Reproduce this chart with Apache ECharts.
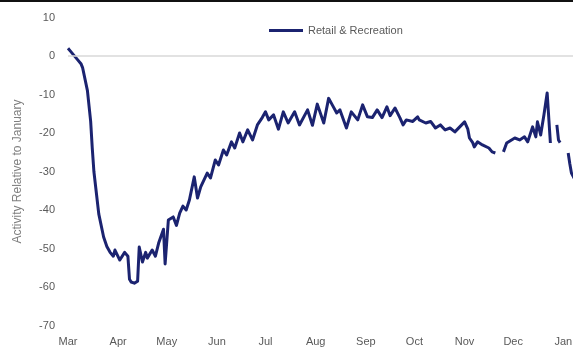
<!DOCTYPE html>
<html>
<head>
    <meta charset="utf-8">
    <title>Retail & Recreation</title>
    <script src="https://cdn.jsdelivr.net/npm/echarts@6/dist/echarts.min.js"></script>
    <style>
        body { margin: 0; background: #fff; }
    </style>
</head>
<body>
    <div id="main" style="width: 573px;height:349px;"></div>
    <script type="text/javascript">
        // dates of the points (null value = gap in the line)
        var dates = [
            '2020-03-01','2020-03-03','2020-03-07','2020-03-09','2020-03-10','2020-03-13','2020-03-15','2020-03-16','2020-03-17','2020-03-20',
            '2020-03-23','2020-03-25','2020-03-27','2020-03-29','2020-03-30','2020-04-02','2020-04-05','2020-04-07','2020-04-08','2020-04-09',
            '2020-04-11','2020-04-13','2020-04-14','2020-04-16','2020-04-18','2020-04-19','2020-04-22','2020-04-24','2020-04-26','2020-04-29',
            '2020-04-30','2020-05-02','2020-05-05','2020-05-07','2020-05-09','2020-05-11','2020-05-13','2020-05-15','2020-05-18','2020-05-20',
            '2020-05-22','2020-05-26','2020-05-28','2020-05-31','2020-06-02','2020-06-05','2020-06-07','2020-06-10','2020-06-12','2020-06-15',
            '2020-06-17','2020-06-20','2020-06-23','2020-06-26','2020-06-29','2020-07-01','2020-07-03','2020-07-06','2020-07-09','2020-07-12',
            '2020-07-15','2020-07-19','2020-07-22','2020-07-27','2020-07-30','2020-08-02','2020-08-06','2020-08-09','2020-08-11','2020-08-14',
            '2020-08-16','2020-08-20','2020-08-23','2020-08-27','2020-08-30','2020-09-02','2020-09-05','2020-09-08','2020-09-11','2020-09-14',
            '2020-09-16','2020-09-19','2020-09-22','2020-09-24','2020-09-26','2020-09-30','2020-10-03','2020-10-04','2020-10-08','2020-10-11',
            '2020-10-14','2020-10-17','2020-10-20','2020-10-23','2020-10-26','2020-10-29','2020-11-01','2020-11-03','2020-11-04','2020-11-06',
            '2020-11-07','2020-11-09','2020-11-12','2020-11-16','2020-11-18','2020-11-20','2020-11-23','2020-11-25','2020-11-27','2020-11-30',
            '2020-12-02','2020-12-05','2020-12-08','2020-12-10','2020-12-13','2020-12-15','2020-12-16','2020-12-18','2020-12-20','2020-12-22',
            '2020-12-24','2020-12-26','2020-12-28','2020-12-29','2020-12-30','2021-01-02','2021-01-04','2021-01-05','2021-01-06','2021-01-08'
        ];
        var values = [
            2, 1, -1, -2, -3, -9, -17, -24, -30, -41,
            -47, -49.5, -51, -52, -50.4, -53, -51, -52, -58, -58.7,
            -59, -58.5, -49.6, -53.5, -51, -52.5, -50.4, -52, -48.6, -45,
            -54, -42.6, -41.8, -44, -40.8, -39, -40, -37.4, -31.4, -36.9,
            -34, -30.4, -31.7, -27, -28.3, -24.4, -25.7, -22.3, -23.9, -20,
            -22.3, -19.2, -21.8, -17.9, -16, -14.5, -16.6, -15.3, -19, -14.5,
            -17.4, -14.5, -17.9, -14, -18, -12.5, -17.4, -11, -12.5, -14.8,
            -14, -18.7, -14.5, -16.6, -12.7, -15.8, -16, -14, -16, -13.2,
            -15.5, -13.5, -16, -17.9, -16.6, -17, -15.8, -16.6, -17.4, -17,
            -18.7, -17.9, -19.2, -18.7, -19.7, -18.4, -17.1, -19, -21.3, -22.5,
            -23.6, -22.3, -23.1, -23.9, -24.9, -25.2, null, -24.9, -22.6, -21.8,
            -21.3, -21.8, -21, -22.3, -18.4, -21, -17.1, -20.5, -15.3, -9.6,
            -22.6, null, -17.9, -21.8, -22.5, null, -25.2, -28, -30.4, -32
        ];
        // month ticks on the x axis
        var monthTicks = ['2020-03-01','2020-04-01','2020-05-01','2020-06-01','2020-07-01','2020-08-01',
            '2020-09-01','2020-10-01','2020-11-01','2020-12-01','2021-01-01'];
        var monthNames = ['Jan','Feb','Mar','Apr','May','Jun','Jul','Aug','Sep','Oct','Nov','Dec'];

        function ts(d) { return new Date(d + 'T00:00:00Z').getTime(); }

        var myChart = echarts.init(document.getElementById('main'));

        var seriesData = dates.map(function (d, i) {
            return [ts(d), values[i] === null ? '-' : values[i]];
        });
        var tickValues = monthTicks.map(ts);

        var option = {
            animation: false,
            textStyle: { fontFamily: 'Liberation Sans' },
            graphic: [{
                type: 'rect',
                left: 0, top: 0,
                shape: { width: 573, height: 2 },
                style: { fill: '#111' },
                silent: true
            }],
            legend: {
                left: 264,
                top: 20,
                icon: 'rect',
                itemWidth: 34,
                itemHeight: 3,
                itemGap: 4,
                textStyle: { fontSize: 11, color: '#595959' },
                data: ['Retail & Recreation']
            },
            grid: {
                left: 68,
                top: 17.5,
                width: 518,
                height: 308,
                outerBoundsMode: 'none'
            },
            xAxis: {
                type: 'value',
                min: ts('2020-03-01'),
                max: ts('2021-01-15'),
                axisLine: { show: false },
                axisTick: { show: false },
                splitLine: { show: false },
                axisLabel: {
                    customValues: tickValues,
                    margin: 11,
                    fontSize: 11,
                    color: '#595959',
                    hideOverlap: false,
                    formatter: function (val) {
                        return monthNames[new Date(val).getUTCMonth()];
                    }
                }
            },
            yAxis: {
                type: 'value',
                min: -70,
                max: 10,
                interval: 10,
                name: 'Activity Relative to January',
                nameLocation: 'middle',
                nameGap: 44,
                nameTextStyle: { fontSize: 12, color: '#7f7f7f' },
                axisLine: { show: false },
                axisTick: { show: false },
                splitLine: { show: false },
                axisLabel: { fontSize: 11, color: '#595959', margin: 13 }
            },
            series: [{
                name: 'Retail & Recreation',
                type: 'line',
                symbol: 'none',
                connectNulls: false,
                data: seriesData,
                lineStyle: { color: '#1b2370', width: 3, join: 'round' },
                itemStyle: { color: '#1b2370' },
                markLine: {
                    silent: true,
                    symbol: 'none',
                    label: { show: false },
                    lineStyle: { color: '#d9d9d9', width: 1.5, type: 'solid' },
                    data: [{ yAxis: 0 }]
                },
                z: 3
            }]
        };

        myChart.setOption(option);
    </script>
</body>
</html>
